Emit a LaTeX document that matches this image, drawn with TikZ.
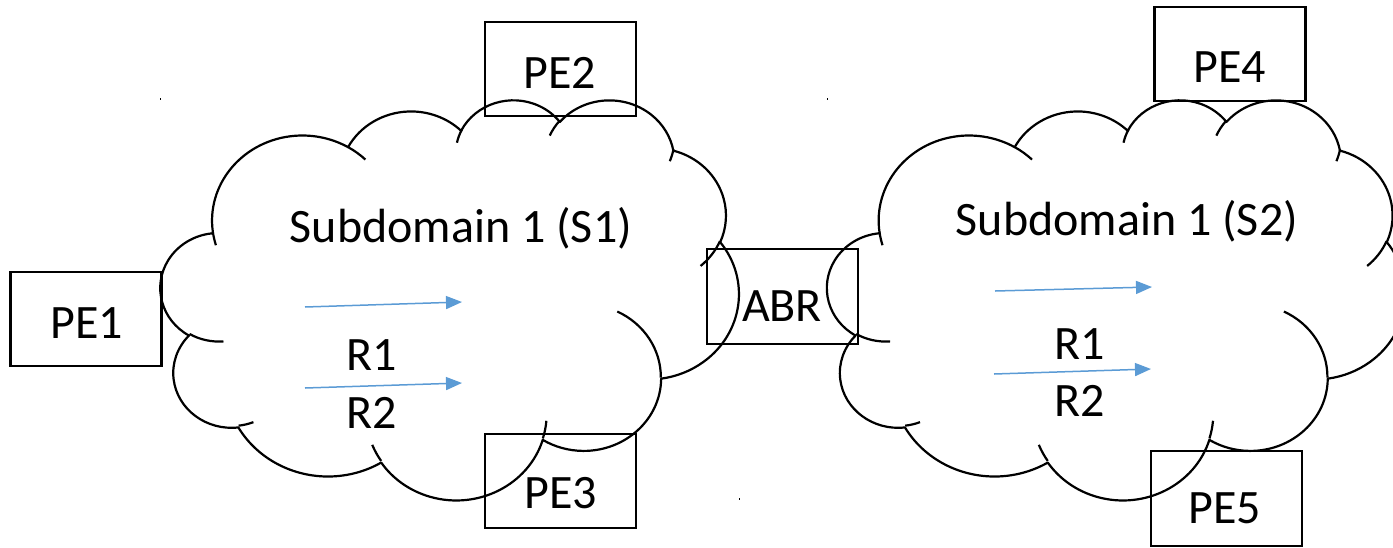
\documentclass[tikz,border=0pt]{standalone}
\usepackage{fontspec}
\setmainfont{Carlito}
\usetikzlibrary{arrows.meta}
\definecolor{flowblue}{RGB}{91,155,213}

% Elliptical arc given as in a preset-shape path: x/y radius, start angle and
% sweep as seen on screen (y pointing down); converted to parametric angles.
\tikzset{
  oarc/.code n args={4}{%
    \pgfmathsetmacro\oarcA{atan2(#1*sin(#3),#2*cos(#3))}%
    \pgfmathsetmacro\oarcB{atan2(#1*sin(#3+#4),#2*cos(#3+#4))}%
    \pgfmathsetmacro\oarcS{0-(\oarcA)}%
    \pgfmathsetmacro\oarcD{0-mod(\oarcB-(\oarcA)+720,360)}%
    \edef\oarcTmp{\noexpand\pgfkeysalso{start angle=\oarcS,delta angle=\oarcD,x radius=#1pt,y radius=#2pt}}%
    \oarcTmp
  },
}

% Cloud outline in a 43.2 x 43.2 frame, placed with its top-left corner at (#1,#2)
\newcommand\drawcloudshape[2]{%
  \begin{scope}[shift={(#1,#2)}, xscale=578/43.2, yscale=400/43.2]
    \draw[cloudline] (3.9,14.37)
      arc[oarc={6.753}{9.190}{-190.4875}{123.7805}]
      arc[oarc={5.333}{7.267}{-144.1024}{89.9452}]
      arc[oarc={4.365}{5.945}{-145.8079}{99.7230}]
      arc[oarc={4.857}{6.595}{-130.9861}{117.2417}]
      arc[oarc={5.333}{7.273}{-78.7089}{109.0269}]
      arc[oarc={6.775}{9.220}{-46.2673}{130.2690}]
      arc[oarc={5.785}{7.867}{0.6250}{114.0333}]
      arc[oarc={6.752}{9.215}{22.4516}{115.1726}]
      arc[oarc={7.720}{10.543}{66.2426}{75.7110}]
      arc[oarc={4.360}{5.918}{-274.9421}{146.7356}]
      arc[oarc={4.345}{5.945}{-246.8285}{152.5189}]
      -- cycle;
    % inner strokes between the puffs
    \draw[cloudline]
      (4.693,26.177) arc[oarc={4.345}{5.945}{86.7420}{26.4295}]
      (6.928,34.899) arc[oarc={4.360}{5.918}{73.6105}{11.4475}]
      (16.478,39.090) arc[oarc={6.752}{9.215}{137.6242}{14.0811}]
      (28.827,34.751) arc[oarc={6.752}{9.215}{6.4533}{15.9984}]
      (34.129,22.954) arc[oarc={5.785}{7.867}{-70.2924}{70.9174}]
      (41.798,15.354) arc[oarc={5.333}{7.273}{30.3180}{27.7515}]
      (38.324,5.426) arc[oarc={4.857}{6.595}{13.7443}{14.8589}]
      (29.078,3.952) arc[oarc={4.857}{6.595}{-149.1815}{18.1954}]
      (22.141,4.720) arc[oarc={4.365}{5.945}{-163.4943}{17.6864}]
      (14.000,5.192) arc[oarc={6.753}{9.190}{-66.7070}{12.3194}]
      (4.127,15.789) arc[oarc={6.753}{9.190}{157.6544}{11.8582}];
  \end{scope}%
}

\begin{document}
\begin{tikzpicture}[x=1pt, y=-1pt,
  cloudline/.style={line width=2.2pt, line join=round},
  pebox/.style={draw, line width=2.2pt, minimum width=151pt, minimum height=94pt, inner sep=0pt},
  lbl/.style={font=\fontsize{48pt}{58pt}\selectfont, inner sep=0pt, anchor=base},
  flow/.style={draw=flowblue, line width=1.5pt, -{Triangle[length=16pt,width=13pt]}}]
\useasboundingbox (0,0) rectangle (1393,547);
\clip (0,0) rectangle (1393,547);

% the two subdomains
\drawcloudshape{160.7}{99}
\drawcloudshape{827.3}{99}

% edge routers
\node[pebox] (pe1box) at (86,319) {};
\node[pebox] (pe2box) at (560.3,69.2) {};
\node[pebox] (pe3box) at (560.3,480.8) {};
\node[pebox] (pe4box) at (1230,53.7) {};
\node[pebox, minimum height=95pt] (pe5box) at (1226.3,498.3) {};
\node[pebox, minimum height=95pt] (abrbox) at (782.5,296.5) {};

\node[lbl] (pe1) at (87,338) {PE1};
\node[lbl] (pe2) at (560,88) {PE2};
\node[lbl] (pe3) at (561,508) {PE3};
\node[lbl] (pe4) at (1230,82) {PE4};
\node[lbl] (pe5) at (1225,523) {PE5};
\node[lbl] (abr) at (782,321) {ABR};

% subdomain titles and route labels
\node[lbl] (s1) at (461,242) {Subdomain 1 (S1)};
\node[lbl] (s2) at (1127,235) {Subdomain 1 (S2)};
\node[lbl] (s1r1) at (372,370) {R1};
\node[lbl] (s1r2) at (372,428) {R2};
\node[lbl] (s2r1) at (1080,359) {R1};
\node[lbl] (s2r2) at (1080,416.5) {R2};

% route arrows
\coordinate (s1a1) at (305,307);  \coordinate (s1b1) at (462,302);
\coordinate (s1a2) at (305,388);  \coordinate (s1b2) at (462,383);
\coordinate (s2a1) at (995,291);  \coordinate (s2b1) at (1152,287);
\coordinate (s2a2) at (994,374);  \coordinate (s2b2) at (1151,369);
\draw[flow] (s1a1) -- (s1b1);
\draw[flow] (s1a2) -- (s1b2);
\draw[flow] (s2a1) -- (s2b1);
\draw[flow] (s2a2) -- (s2b2);

% anchor specks
\fill (160.2,98) rectangle ++(1,2);
\fill (826.8,98) rectangle ++(1,2);
\fill (738.5,498) rectangle ++(1,2);
\end{tikzpicture}
\end{document}
